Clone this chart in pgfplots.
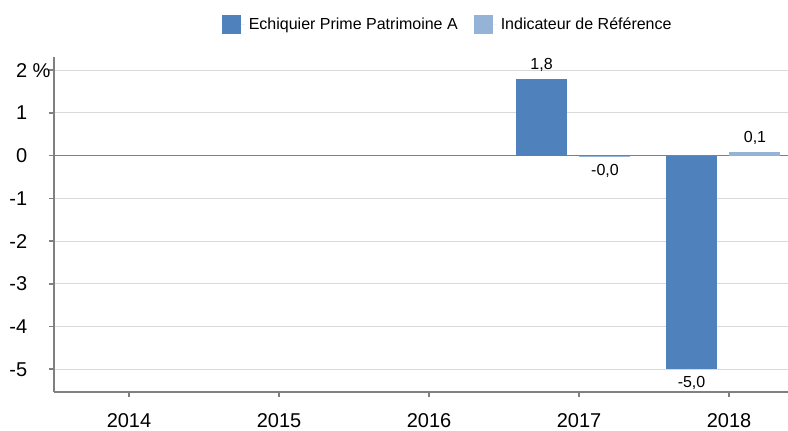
\documentclass[border=0pt]{standalone}
\usepackage{fontspec}
\setmainfont{Liberation Sans}
\usepackage{pgfplots}
\pgfplotsset{compat=1.18}
\definecolor{serA}{HTML}{4F81BD}
\definecolor{serB}{HTML}{95B3D7}
\definecolor{gridc}{HTML}{D9D9D9}
\definecolor{axc}{HTML}{808080}
\begin{document}
\begin{tikzpicture}
\useasboundingbox (-27pt,-19.5pt) rectangle (367pt,196pt);
\begin{axis}[
  at={(0,0)}, anchor=south west,
  scale only axis, width=367pt, height=167.5pt,
  xmin=-0.5, xmax=4.393, ymin=-5.533, ymax=2.311,
  ybar, bar width=0.34,
  axis x line=bottom, axis y line=left,
  axis line style={-, draw=axc, line width=0.8pt},
  xtick={0,1,2,3,4}, xticklabels={2014,2015,2016,2017,2018},
  ytick={-5,-4,-3,-2,-1,0,1,2},
  yticklabels={\llap{-}5,\llap{-}4,\llap{-}3,\llap{-}2,\llap{-}1,0,1,2 \%},
  ymajorgrids, grid style={gridc, line width=0.5pt},
  extra y ticks={0}, extra y tick labels={},
  extra y tick style={grid style={axc, line width=0.8pt}},
  tick style={axc, line width=0.8pt}, tick align=outside, major tick length=2.5pt,
  tick label style={font=\fontsize{10}{12}\selectfont},
  /pgf/number format/assume math mode=true,
  yticklabel style={anchor=west, xshift=-20pt},
  xticklabel style={yshift=-4.5pt},
  legend style={at={(0.535,1)}, anchor=center, xshift=1pt, yshift=16pt, draw=none,
    font=\fontsize{8}{10}\selectfont, /tikz/every even column/.append style={column sep=6pt}},
  legend columns=-1,
  nodes near coords, point meta=explicit symbolic,
  every node near coord/.append style={font=\fontsize{8}{10}\selectfont, text=black},
]
\addplot[fill=serA, draw=none, bar shift=0pt,
  every node near coord/.append style={anchor=south},
  legend image code/.code={\fill[serA] (0pt,-4.75pt) rectangle (9.5pt,4.75pt); \path (0pt,0pt) -- (11.5pt,0pt);}]
  table[x=x, y=y, meta=lab] {
x y lab
2.75 1.8 1,8
};
\addlegendentry{Echiquier Prime Patrimoine A}
\addplot[fill=serB, draw=none, bar shift=0pt,
  every node near coord/.append style={anchor=south},
  legend image code/.code={\fill[serB] (0pt,-4.75pt) rectangle (9.5pt,4.75pt); \path (0pt,0pt) -- (11.5pt,0pt);}]
  table[x=x, y=y, meta=lab] {
x y lab
4.173 0.09 0,1
};
\addlegendentry{Indicateur de Référence}
\addplot[fill=serA, draw=none, bar shift=0pt, forget plot,
  every node near coord/.append style={anchor=north}]
  table[x=x, y=y, meta=lab] {
x y lab
3.75 -5.0 -5,0
};
\addplot[fill=serB, draw=none, bar shift=0pt, forget plot,
  every node near coord/.append style={anchor=north}]
  table[x=x, y=y, meta=lab] {
x y lab
3.173 -0.04 -0,0
};
\end{axis}
\end{tikzpicture}
\end{document}
